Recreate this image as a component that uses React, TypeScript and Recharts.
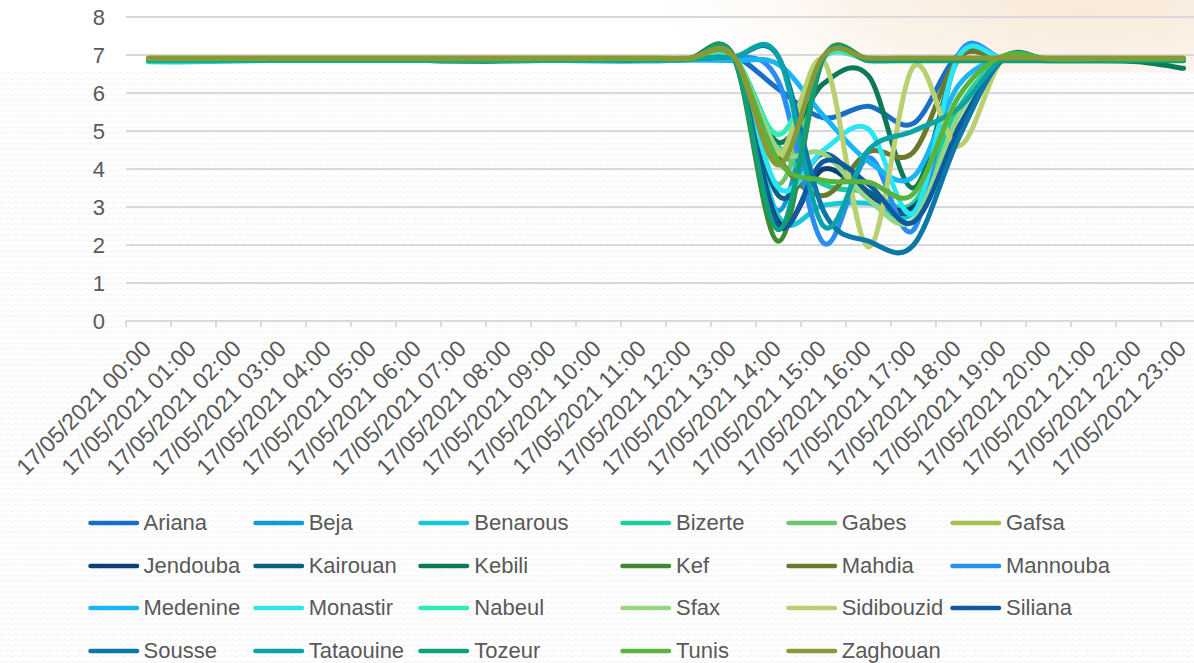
import React from 'react';
import { LineChart, Line, XAxis, YAxis, CartesianGrid, Legend } from 'recharts';

const hours = [
  '17/05/2021 00:00', '17/05/2021 01:00', '17/05/2021 02:00', '17/05/2021 03:00',
  '17/05/2021 04:00', '17/05/2021 05:00', '17/05/2021 06:00', '17/05/2021 07:00',
  '17/05/2021 08:00', '17/05/2021 09:00', '17/05/2021 10:00', '17/05/2021 11:00',
  '17/05/2021 12:00', '17/05/2021 13:00', '17/05/2021 14:00', '17/05/2021 15:00',
  '17/05/2021 16:00', '17/05/2021 17:00', '17/05/2021 18:00', '17/05/2021 19:00',
  '17/05/2021 20:00', '17/05/2021 21:00', '17/05/2021 22:00', '17/05/2021 23:00',
];

const yTicks = [0, 1, 2, 3, 4, 5, 6, 7, 8];

const Ariana = [6.9, 6.9, 6.9, 6.9, 6.9, 6.9, 6.9, 6.9, 6.9, 6.88, 6.88, 6.88, 6.9, 6.98, 6.1, 5.35, 5.65, 5.2, 7.0, 6.9, 6.88, 6.88, 6.88, 6.88];
const Beja = [6.88, 6.88, 6.88, 6.88, 6.88, 6.88, 6.88, 6.88, 6.88, 6.88, 6.88, 6.88, 6.9, 6.95, 2.9, 6.92, 6.9, 6.9, 6.9, 6.9, 6.88, 6.88, 6.88, 6.88];
const Benarous = [6.82, 6.82, 6.84, 6.86, 6.86, 6.86, 6.86, 6.86, 6.86, 6.86, 6.86, 6.86, 6.88, 6.92, 2.75, 3.05, 3.1, 2.85, 5.5, 6.92, 6.88, 6.88, 6.88, 6.88];
const Bizerte = [6.88, 6.88, 6.88, 6.88, 6.88, 6.88, 6.88, 6.88, 6.88, 6.88, 6.88, 6.88, 6.9, 6.95, 4.6, 3.6, 3.4, 3.1, 5.6, 6.92, 6.88, 6.88, 6.88, 6.88];
const Gabes = [6.88, 6.88, 6.88, 6.88, 6.88, 6.88, 6.88, 6.85, 6.88, 6.88, 6.88, 6.88, 6.9, 6.95, 3.6, 6.92, 6.9, 6.9, 6.9, 6.9, 6.88, 6.88, 6.88, 6.88];
const Gafsa = [6.9, 6.9, 6.9, 6.9, 6.9, 6.9, 6.9, 6.9, 6.9, 6.9, 6.9, 6.9, 6.9, 6.98, 4.2, 6.95, 6.9, 6.9, 6.9, 6.9, 6.9, 6.9, 6.9, 6.9];
const Jendouba = [6.88, 6.88, 6.88, 6.88, 6.88, 6.88, 6.88, 6.88, 6.88, 6.88, 6.88, 6.88, 6.9, 6.98, 2.6, 4.0, 3.3, 3.0, 5.0, 6.9, 6.88, 6.88, 6.88, 6.88];
const Kairouan = [6.88, 6.88, 6.88, 6.88, 6.88, 6.88, 6.88, 6.88, 6.88, 6.88, 6.88, 6.88, 6.9, 6.95, 3.3, 4.4, 3.4, 2.9, 5.1, 6.9, 6.88, 6.88, 6.88, 6.88];
const Kebili = [6.86, 6.86, 6.86, 6.86, 6.86, 6.86, 6.86, 6.84, 6.84, 6.86, 6.86, 6.86, 6.88, 6.95, 4.7, 6.25, 6.45, 3.5, 6.9, 6.9, 6.85, 6.85, 6.82, 6.65];
const Kef = [6.88, 6.88, 6.88, 6.88, 6.88, 6.88, 6.86, 6.84, 6.86, 6.88, 6.88, 6.88, 6.9, 6.95, 2.1, 6.92, 6.9, 6.9, 6.9, 6.9, 6.88, 6.88, 6.88, 6.88];
const Mahdia = [6.9, 6.9, 6.9, 6.9, 6.9, 6.9, 6.9, 6.9, 6.9, 6.9, 6.9, 6.9, 6.9, 6.95, 4.3, 3.3, 4.45, 4.45, 6.92, 6.9, 6.9, 6.9, 6.9, 6.9];
const Mannouba = [6.88, 6.88, 6.88, 6.88, 6.88, 6.88, 6.88, 6.88, 6.88, 6.88, 6.88, 6.88, 6.9, 6.98, 6.3, 2.05, 4.3, 2.4, 7.0, 6.9, 6.88, 6.88, 6.88, 6.88];
const Medenine = [6.86, 6.86, 6.86, 6.86, 6.86, 6.86, 6.86, 6.86, 6.86, 6.86, 6.84, 6.84, 6.86, 6.85, 6.75, 5.4, 4.2, 3.8, 6.2, 6.92, 6.88, 6.88, 6.88, 6.88];
const Monastir = [6.85, 6.85, 6.86, 6.86, 6.86, 6.86, 6.86, 6.86, 6.86, 6.86, 6.86, 6.86, 6.88, 6.92, 3.5, 4.5, 5.05, 2.85, 6.95, 6.9, 6.88, 6.88, 6.88, 6.88];
const Nabeul = [6.88, 6.88, 6.88, 6.88, 6.88, 6.88, 6.88, 6.88, 6.88, 6.88, 6.88, 6.88, 6.9, 6.95, 4.9, 6.95, 6.9, 6.9, 6.9, 6.9, 6.88, 6.88, 6.88, 6.88];
const Sfax = [6.88, 6.88, 6.88, 6.88, 6.88, 6.88, 6.88, 6.88, 6.88, 6.88, 6.88, 6.88, 6.9, 6.95, 4.5, 4.4, 3.2, 2.65, 5.4, 6.92, 6.88, 6.88, 6.88, 6.88];
const Sidibouzid = [6.88, 6.88, 6.88, 6.88, 6.88, 6.88, 6.88, 6.88, 6.88, 6.88, 6.88, 6.88, 6.9, 6.95, 4.4, 6.85, 1.95, 6.7, 4.6, 6.92, 6.88, 6.88, 6.88, 6.88];
const Siliana = [6.88, 6.88, 6.88, 6.88, 6.88, 6.88, 6.88, 6.88, 6.88, 6.88, 6.88, 6.88, 6.9, 6.95, 2.5, 4.2, 3.6, 2.6, 5.0, 6.9, 6.88, 6.88, 6.88, 6.88];
const Sousse = [6.88, 6.88, 6.88, 6.88, 6.88, 6.88, 6.88, 6.88, 6.88, 6.88, 6.88, 6.88, 6.9, 6.95, 6.95, 2.9, 2.1, 2.0, 4.8, 6.92, 6.88, 6.88, 6.88, 6.88];
const Tataouine = [6.88, 6.88, 6.88, 6.88, 6.88, 6.88, 6.88, 6.88, 6.88, 6.88, 6.88, 6.88, 6.9, 6.95, 6.95, 2.5, 4.5, 5.0, 5.6, 6.92, 6.88, 6.88, 6.88, 6.88];
const Tozeur = [6.86, 6.86, 6.86, 6.86, 6.86, 6.86, 6.86, 6.86, 6.86, 6.86, 6.86, 6.86, 6.88, 6.95, 2.4, 6.92, 6.85, 6.85, 6.85, 6.85, 6.85, 6.85, 6.85, 6.85];
const Tunis = [6.9, 6.9, 6.9, 6.9, 6.9, 6.9, 6.9, 6.9, 6.9, 6.9, 6.9, 6.9, 6.9, 6.95, 4.2, 3.7, 3.65, 3.35, 5.9, 6.98, 6.9, 6.9, 6.9, 6.9];
const Zaghouan = [6.92, 6.92, 6.92, 6.92, 6.92, 6.92, 6.92, 6.92, 6.92, 6.92, 6.92, 6.92, 6.92, 6.98, 4.1, 6.98, 6.92, 6.92, 6.92, 6.92, 6.92, 6.92, 6.92, 6.92];

const seriesNames = [
  'Ariana', 'Beja', 'Benarous', 'Bizerte', 'Gabes', 'Gafsa',
  'Jendouba', 'Kairouan', 'Kebili', 'Kef', 'Mahdia', 'Mannouba',
  'Medenine', 'Monastir', 'Nabeul', 'Sfax', 'Sidibouzid', 'Siliana',
  'Sousse', 'Tataouine', 'Tozeur', 'Tunis', 'Zaghouan',
];
const seriesValues = [
  Ariana, Beja, Benarous, Bizerte, Gabes, Gafsa,
  Jendouba, Kairouan, Kebili, Kef, Mahdia, Mannouba,
  Medenine, Monastir, Nabeul, Sfax, Sidibouzid, Siliana,
  Sousse, Tataouine, Tozeur, Tunis, Zaghouan,
];
const seriesColors = [
  '#1a6fc4', '#0f9ad8', '#17c8d8', '#1ccf9c', '#6cc66c', '#a6c24a',
  '#0d3f75', '#0a5f82', '#0b7a58', '#3f8a2e', '#6a7a2a', '#2a8ef0',
  '#1ab6f4', '#2be6f2', '#2cecba', '#95d685', '#b8d070', '#0d5aa0',
  '#0b78a8', '#0aa4a8', '#0fa07a', '#58b43a', '#879a35',
];

const data = hours.map((h, i) => {
  const row: Record<string, any> = { hour: h };
  seriesNames.forEach((n, s) => { row[n] = seriesValues[s][i]; });
  return row;
});

// Excel-like smoothed line (uniform Catmull-Rom as cubic Bezier)
const excelCurve = (context: any) => {
  let pts: number[][] = [];
  return {
    areaStart() {},
    areaEnd() {},
    lineStart() { pts = []; },
    point(x: number, y: number) { pts.push([+x, +y]); },
    lineEnd() {
      const n = pts.length;
      if (!n) return;
      context.moveTo(pts[0][0], pts[0][1]);
      for (let i = 0; i < n - 1; i++) {
        const p0 = pts[Math.max(i - 1, 0)];
        const p1 = pts[i];
        const p2 = pts[i + 1];
        const p3 = pts[Math.min(i + 2, n - 1)];
        context.bezierCurveTo(
          p1[0] + (p2[0] - p0[0]) / 6, p1[1] + (p2[1] - p0[1]) / 6,
          p2[0] - (p3[0] - p1[0]) / 6, p2[1] - (p3[1] - p1[1]) / 6,
          p2[0], p2[1],
        );
      }
    },
  };
};

const FONT = '"Liberation Sans", Arial, sans-serif';
const TEXT = '#595959';
const HALF_BAND = 22.5;

const XTick = (props: any) => {
  const { x, y, payload } = props;
  return (
    <g>
      <line x1={x - HALF_BAND} y1={y} x2={x - HALF_BAND} y2={y + 6} stroke="#d9d9d9" strokeWidth={1.8} />
      <text
        transform={`translate(${x + 4},${y + 29}) rotate(-45)`}
        textAnchor="end"
        fontFamily={FONT}
        fontSize={23}
        fill={TEXT}
      >
        {payload.value}
      </text>
    </g>
  );
};

const legendIconX = [87.5, 252.7, 418.3, 620, 785.7, 950];
const legendRowY = [523.3, 565.8, 608.3, 650.8];

const LegendContent = (props: any) => {
  const { payload } = props;
  return (
    <div style={{ position: 'relative', width: 0, height: 0 }}>
      {(payload || []).map((p: any, i: number) => {
        const c = i % 6;
        const r = Math.floor(i / 6);
        return (
          <div
            key={p.value}
            style={{
              position: 'absolute',
              left: legendIconX[c],
              top: legendRowY[r] - 15,
              height: 30,
              display: 'flex',
              alignItems: 'center',
              whiteSpace: 'nowrap',
            }}
          >
            <svg width={54} height={8} style={{ display: 'block' }}>
              <line x1={2.5} y1={4} x2={49} y2={4} stroke={p.color} strokeWidth={4.5} strokeLinecap="round" />
            </svg>
            <span style={{ fontFamily: FONT, fontSize: 22, color: TEXT, marginLeft: 2, lineHeight: '30px' }}>{p.value}</span>
          </div>
        );
      })}
    </div>
  );
};

const Background = () => (
  <svg width={1194} height={663} style={{ position: 'absolute', left: 0, top: 0 }}>
    <defs>
      <pattern id="wave" width={7} height={5.4} patternUnits="userSpaceOnUse">
        <path d="M0 3 Q1.75 1.2 3.5 3 T7 3" fill="none" stroke="#eeeeee" strokeWidth={0.9} />
      </pattern>
      <radialGradient id="glow" cx={1090} cy={0} r={480} gradientUnits="userSpaceOnUse" gradientTransform="translate(1090 0) scale(1 0.28) translate(-1090 0)">
        <stop offset="0%" stopColor="#f8e9d8" />
        <stop offset="50%" stopColor="#fbf3ea" />
        <stop offset="100%" stopColor="#ffffff" stopOpacity={0} />
      </radialGradient>
    </defs>
    <rect x={0} y={0} width={1194} height={663} fill="#ffffff" />
    <rect x={0} y={72} width={1194} height={591} fill="url(#wave)" />
    <rect x={0} y={0} width={1194} height={72} fill="#ffffff" />
    <rect x={0} y={0} width={1194} height={72} fill="url(#glow)" />
  </svg>
);

export default function App() {
  return (
    <div style={{ position: 'absolute', left: 0, top: 0, width: 1194, height: 663, overflow: 'hidden', background: '#fff' }}>
      <Background />
      <div style={{ position: 'absolute', left: 0, top: 0 }}>
        <LineChart
          width={1220}
          height={663}
          data={data}
          margin={{ top: 17, right: 14, bottom: 142, left: 0 }}
        >
          <CartesianGrid vertical={false} stroke="#d9d9d9" strokeWidth={1.8} />
          <XAxis
            dataKey="hour"
            interval={0}
            height={200}
            padding={{ left: HALF_BAND, right: HALF_BAND }}
            tickLine={false}
            axisLine={false}
            tickSize={0}
            tickMargin={0}
            tick={<XTick />}
          />
          <YAxis
            domain={[0, 8]}
            ticks={yTicks}
            width={126}
            axisLine={false}
            tickLine={false}
            tickSize={0}
            tickMargin={21}
            tick={{ fontFamily: FONT, fontSize: 22, fill: TEXT }}
          />
          <Legend
            content={<LegendContent />}
            wrapperStyle={{ position: 'absolute', left: 0, top: 0, width: 0, height: 0 }}
          />
          {seriesNames.map((n, s) => (
            <Line
              key={n}
              dataKey={n}
              name={n}
              type={excelCurve as any}
              stroke={seriesColors[s]}
              strokeWidth={5}
              strokeLinecap="round"
              strokeLinejoin="round"
              dot={false}
              activeDot={false}
              isAnimationActive={false}
            />
          ))}
        </LineChart>
      </div>
    </div>
  );
}
